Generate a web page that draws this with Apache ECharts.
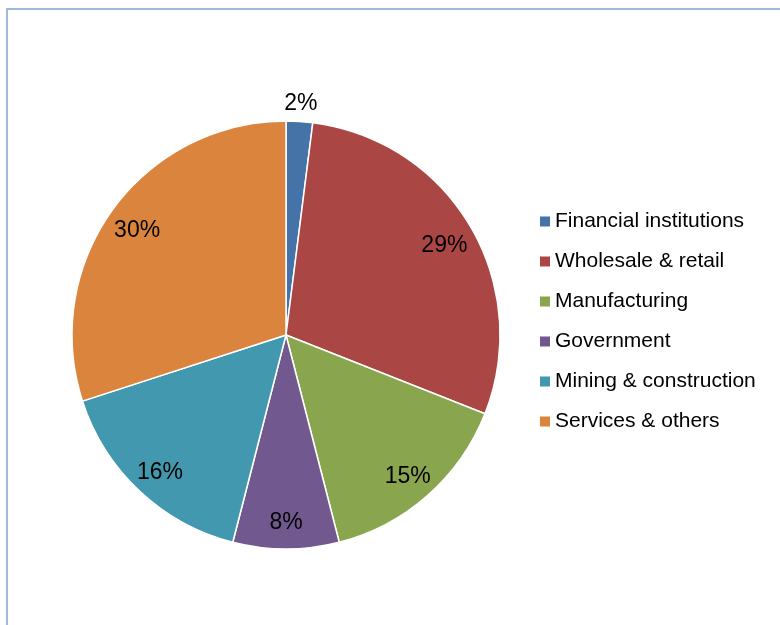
<!DOCTYPE html>
<html>
<head>
<meta charset="utf-8">
<script src="https://cdn.jsdelivr.net/npm/echarts@6/dist/echarts.min.js"></script>
<style>
  html, body { margin: 0; padding: 0; background: #ffffff; overflow: hidden; }
  #frame {
    position: absolute; left: 6px; top: 8px; width: 800px; height: 700px;
    border-left: 2px solid #9DB9DC; border-top: 2px solid #9DB9DC;
  }
  #chart { position: absolute; left: 0; top: 0; width: 780px; height: 625px; }
</style>
</head>
<body>
<div id="frame"></div>
<div id="chart"></div>
<script>
// Loan portfolio by sector, share of total (%)
const sectors = [
  'Financial institutions',
  'Wholesale & retail',
  'Manufacturing',
  'Government',
  'Mining & construction',
  'Services & others'
];
const shares = [2, 29, 15, 8, 16, 30];
const sectorColors = ['#4572A7', '#AA4643', '#89A54E', '#71588F', '#4198AF', '#DB843D'];

// slices whose percentage sits just outside the rim instead of inside
const outsideLabels = ['Financial institutions'];

const FONT = '"Liberation Sans", Arial, sans-serif';
const CENTER = [286, 335];
const R = 214;

const pieData = sectors.map((name, i) => ({ name, value: shares[i] }));

const labelText = p => p.value + '%';
const labelStyle = {
  show: true, position: 'inside', formatter: labelText,
  fontFamily: FONT, fontSize: 23, color: '#000'
};
// digits carry no descenders, so drop the text box a little to centre the glyphs
const labelNudge = { dy: 4 };

const chart = echarts.init(document.getElementById('chart'), null, { renderer: 'canvas' });

chart.setOption({
  animation: false,
  color: sectorColors,
  textStyle: { fontFamily: FONT },
  legend: {
    orient: 'vertical',
    left: 540,
    top: 211,
    padding: 0,
    itemWidth: 10,
    itemHeight: 10,
    itemGap: 19,
    icon: 'rect',
    selectedMode: false,
    itemStyle: { borderWidth: 0 },
    data: sectors,
    textStyle: { fontFamily: FONT, fontSize: 21, color: '#000', lineHeight: 21 }
  },
  series: [
    {
      // the visible pie
      type: 'pie',
      center: CENTER,
      radius: [0, R],
      startAngle: 90,
      clockwise: true,
      silent: true,
      label: { show: false },
      labelLine: { show: false },
      itemStyle: { borderColor: '#ffffff', borderWidth: 1.5 },
      data: pieData
    },
    {
      // label ring for the percentages drawn inside the slices
      type: 'pie',
      center: CENTER,
      radius: [148, R],
      startAngle: 90,
      clockwise: true,
      silent: true,
      itemStyle: { color: 'transparent', borderWidth: 0 },
      label: labelStyle,
      labelLayout: labelNudge,
      labelLine: { show: false },
      data: pieData.map(d => ({
        name: d.name, value: d.value,
        label: { show: !outsideLabels.includes(d.name) }
      }))
    },
    {
      // label ring just beyond the rim for narrow slices
      type: 'pie',
      center: CENTER,
      radius: [R, 252],
      startAngle: 90,
      clockwise: true,
      silent: true,
      itemStyle: { color: 'transparent', borderWidth: 0 },
      label: labelStyle,
      labelLayout: labelNudge,
      labelLine: { show: false },
      data: pieData.map(d => ({
        name: d.name, value: d.value,
        label: { show: outsideLabels.includes(d.name) }
      }))
    }
  ]
});
</script>
</body>
</html>
